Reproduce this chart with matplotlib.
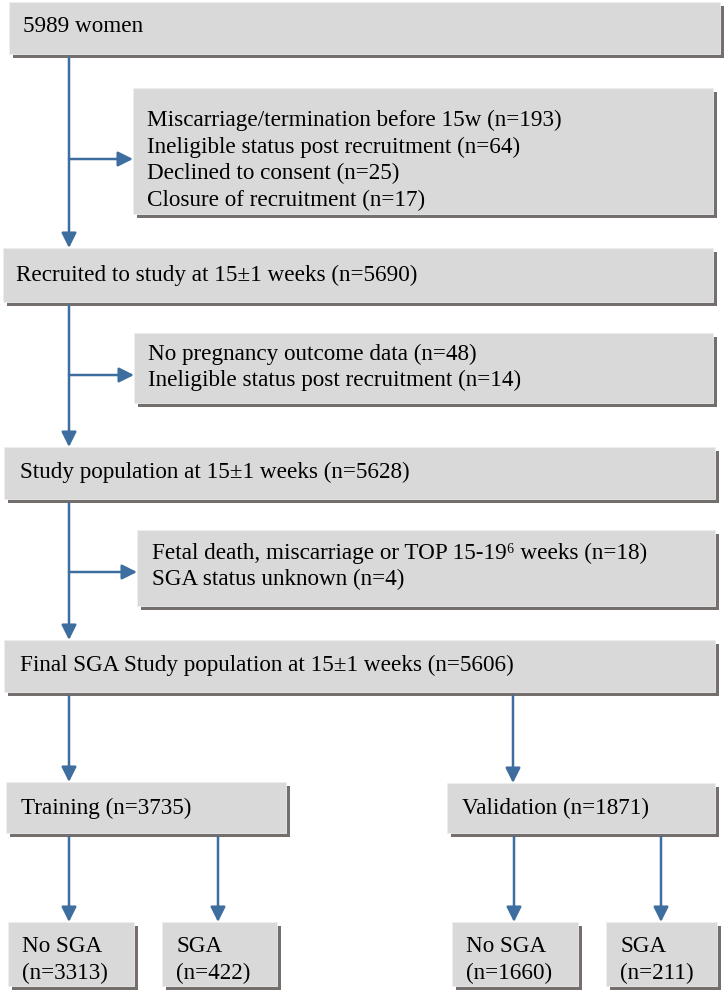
import matplotlib
matplotlib.use('Agg')
import matplotlib.pyplot as plt
from matplotlib.patches import Rectangle

plt.rcParams['font.family'] = ['Liberation Serif', 'DejaVu Serif']

# flowchart content
main_labels = [
    '5989 women',
    'Recruited to study at 15\u00b11 weeks (n=5690)',
    'Study population at 15\u00b11 weeks (n=5628)',
    'Final SGA Study population at 15\u00b11 weeks (n=5606)',
]
excl_1 = [
    'Miscarriage/termination before 15w (n=193)',
    'Ineligible status post recruitment (n=64)',
    'Declined to consent (n=25)',
    'Closure of recruitment (n=17)',
]
excl_2 = [
    'No pregnancy outcome data (n=48)',
    'Ineligible status post recruitment (n=14)',
]
excl_3 = [
    'Fetal death, miscarriage or TOP 15-19\u2076 weeks (n=18)',
    'SGA status unknown (n=4)',
]
split_labels = ['Training (n=3735)', 'Validation (n=1871)']
leaf_labels = [['No SGA', '(n=3313)'], ['SGA', '(n=422)'],
               ['No SGA', '(n=1660)'], ['SGA', '(n=211)']]

W, H = 727, 991
fig = plt.figure(figsize=(W / 100, H / 100), dpi=100)
ax = fig.add_axes([0, 0, 1, 1])
ax.set_xlim(0, W)
ax.set_ylim(H, 0)
ax.axis('off')

FILL = '#d9d9d9'
SHADOW = '#746f6d'
BLUE = '#3e6e9f'
FS = 16.7


def box(x0, y0, x1, y1):
    ax.add_patch(Rectangle((x0 + 4, y0 + 4), x1 - x0, y1 - y0, facecolor=SHADOW,
                           edgecolor='none', zorder=1))
    ax.add_patch(Rectangle((x0, y0), x1 - x0, y1 - y0, facecolor=FILL,
                           edgecolor='#eeeeee', lw=0.6, zorder=2))


def lines(x, baselines, texts):
    for b, t in zip(baselines, texts):
        ax.text(x, b, t, fontsize=FS, va='baseline', ha='left', zorder=3)


def arrow(x0, y0, x1, y1):
    ax.annotate('', xy=(x1, y1), xytext=(x0, y0),
                arrowprops=dict(arrowstyle='-|>,head_length=0.6,head_width=0.3',
                                mutation_scale=15, color=BLUE, lw=1.8,
                                shrinkA=0, shrinkB=0), zorder=4)


# main column
box(9, 2, 720, 54)
lines(23, [32], [main_labels[0]])
box(133, 88, 713, 214)
lines(147, [126, 153, 179, 206], excl_1)
box(3, 248, 713, 302)
lines(16, [281], [main_labels[1]])
box(134, 333, 713, 403)
lines(148, [360, 386], excl_2)
box(4, 447, 715, 499)
lines(20, [478], [main_labels[2]])
box(137, 530, 715, 606)
lines(152, [559, 585], excl_3)
box(4, 640, 715, 692)
lines(20, [671], [main_labels[3]])

# connectors in main column
arrow(69, 58, 69, 248)
arrow(69, 159, 133, 159)
arrow(69, 306, 69, 447)
arrow(69, 375, 134, 375)
arrow(69, 503, 69, 640)
arrow(69, 572, 137, 572)

# split
arrow(69, 696, 69, 782)
arrow(513, 696, 513, 783)
box(6, 782, 286, 833)
lines(21, [814], [split_labels[0]])
box(447, 783, 715, 833)
lines(462, [814], [split_labels[1]])

# leaves
leaf_boxes = [(8, 134), (162, 277), (452, 578), (606, 717)]
leaf_arrows = [69, 218, 514, 661]
for (x0, x1), xa, lab in zip(leaf_boxes, leaf_arrows, leaf_labels):
    arrow(xa, 837, xa, 922)
    box(x0, 922, x1, 986)
    lines(x0 + 14, [952, 979], lab)

fig.savefig('out.png', dpi=100, facecolor='white')
